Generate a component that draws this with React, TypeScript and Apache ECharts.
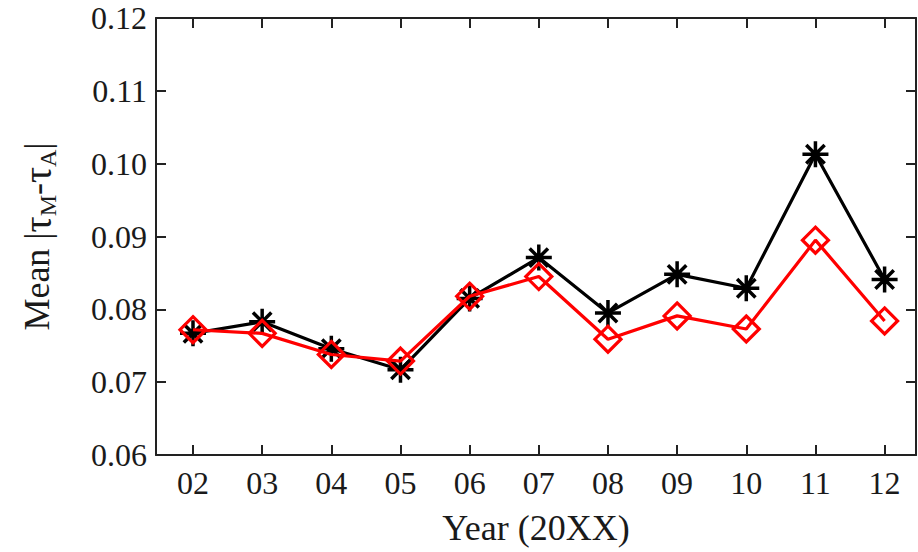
import React, { useEffect, useRef } from "react";
import * as echarts from "echarts";

const categories = ["02", "03", "04", "05", "06", "07", "08", "09", "10", "11", "12"];
const yearValues = [2, 3, 4, 5, 6, 7, 8, 9, 10, 11, 12];
const blackSeries = [0.0767, 0.0783, 0.0746, 0.0717, 0.0815, 0.0871, 0.0795, 0.0848, 0.0829, 0.1013, 0.0841];
const redSeries = [0.0772, 0.0767, 0.0738, 0.0729, 0.0818, 0.0845, 0.0759, 0.0791, 0.0773, 0.0895, 0.0784];
const yTicks = [0.06, 0.07, 0.08, 0.09, 0.1, 0.11, 0.12];

const FONT = "'Liberation Serif', 'DejaVu Serif', serif";
const AXIS_COLOR = "#222";
const TEXT_COLOR = "#1a1a1a";
const STAR = "path://M0,-10L0,10M-10,0L10,0M-7.07,-7.07L7.07,7.07M-7.07,7.07L7.07,-7.07";

export default function App() {
  const ref = useRef<HTMLDivElement>(null);
  useEffect(() => {
    if (!ref.current) return;
    const chart = echarts.init(ref.current, undefined, { renderer: "svg" });
    const xMin = 1.465;
    const xMax = 12.454;
    const baseX = {
      type: "value" as const,
      min: xMin,
      max: xMax,
      splitLine: { show: false },
      axisLine: { show: true, lineStyle: { color: AXIS_COLOR, width: 2 } },
      axisTick: { show: true, inside: true, length: 10, customValues: yearValues, lineStyle: { color: AXIS_COLOR, width: 2 } },
    };
    const baseY = {
      type: "value" as const,
      min: yTicks[0],
      max: yTicks[yTicks.length - 1],
      interval: 0.01,
      splitLine: { show: false },
      axisLine: { show: true, lineStyle: { color: AXIS_COLOR, width: 2 } },
      axisTick: { show: true, inside: true, length: 10, lineStyle: { color: AXIS_COLOR, width: 2 } },
    };
    chart.setOption({
      animation: false,
      backgroundColor: "#fff",
      grid: { left: 156, top: 18, right: 2, bottom: 97, containLabel: false },
      xAxis: [
        {
          ...baseX,
          position: "bottom",
          name: "Year (20XX)",
          nameLocation: "middle",
          nameGap: 55,
          nameTextStyle: { fontFamily: FONT, fontSize: 36, color: TEXT_COLOR },
          axisLabel: {
            show: true,
            customValues: yearValues,
            margin: 12,
            fontFamily: FONT,
            fontSize: 32,
            color: TEXT_COLOR,
            formatter: (v: number) => categories[yearValues.indexOf(Math.round(v))] ?? "",
          },
        },
        { ...baseX, position: "top", axisLabel: { show: false } },
      ],
      yAxis: [
        {
          ...baseY,
          position: "left",
          name: "{n|Mean |}{t|τ}{s|M}{n|-}{t|τ}{s|A}{n||}",
          nameLocation: "middle",
          nameRotate: 90,
          nameGap: 96,
          nameTextStyle: {
            fontFamily: FONT,
            fontSize: 36,
            color: TEXT_COLOR,
            rich: {
              t: { fontFamily: FONT, fontSize: 40, color: TEXT_COLOR, lineHeight: 46 },
              n: { fontFamily: FONT, fontSize: 36, color: TEXT_COLOR, lineHeight: 46 },
              s: { fontFamily: FONT, fontSize: 24, color: TEXT_COLOR, lineHeight: 46, verticalAlign: "bottom" },
            },
          },
          axisLabel: {
            show: true,
            margin: 9,
            fontFamily: FONT,
            fontSize: 32,
            color: TEXT_COLOR,
            formatter: (v: number) => v.toFixed(2),
          },
        },
        { ...baseY, position: "right", axisLabel: { show: false } },
      ],
      series: [
        {
          type: "line",
          data: yearValues.map((x, i) => [x, blackSeries[i]]),
          lineStyle: { color: "#000", width: 3.2 },
          symbol: STAR,
          symbolSize: 26,
          itemStyle: { color: "#000", borderColor: "#000", borderWidth: 3.5 },
          z: 2,
        },
        {
          type: "line",
          data: yearValues.map((x, i) => [x, redSeries[i]]),
          lineStyle: { color: "#ff0000", width: 3.2 },
          symbol: "diamond",
          symbolSize: 26,
          itemStyle: { color: "transparent", borderColor: "#ff0000", borderWidth: 3.2 },
          z: 3,
        },
      ],
    });
    return () => chart.dispose();
  }, []);
  return (
    <div
      ref={ref}
      style={{ position: "fixed", left: 0, top: 0, width: 918, height: 552, background: "#fff" }}
    />
  );
}
